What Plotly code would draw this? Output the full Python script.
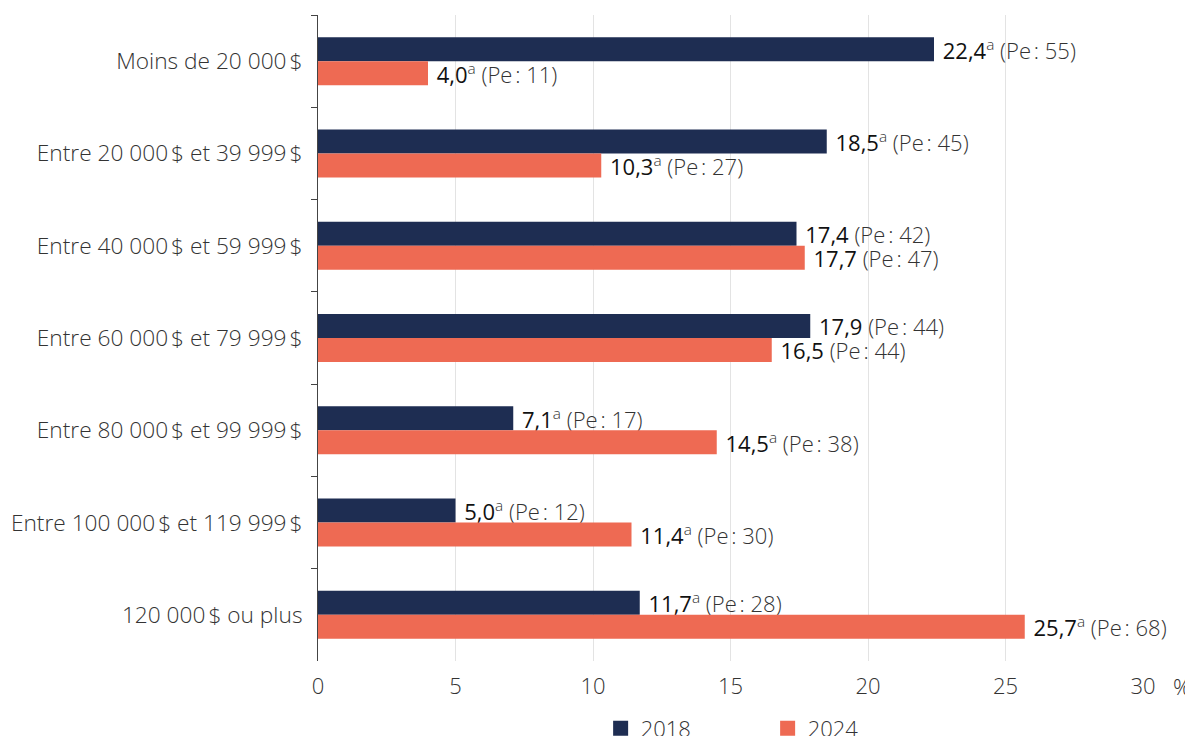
import plotly.graph_objects as go

categories = [
    "Moins de 20\u00a0000\u202f$",
    "Entre 20\u00a0000\u202f$ et 39\u00a0999\u202f$",
    "Entre 40\u00a0000\u202f$ et 59\u00a0999\u202f$",
    "Entre 60\u00a0000\u202f$ et 79\u00a0999\u202f$",
    "Entre 80\u00a0000\u202f$ et 99\u00a0999\u202f$",
    "Entre 100\u00a0000\u202f$ et 119\u00a0999\u202f$",
    "120\u00a0000\u202f$ ou plus",
]
values_2018 = [22.4, 18.5, 17.4, 17.9, 7.1, 5.0, 11.7]
flags_2018 = ["a", "a", "", "", "a", "a", "a"]
pe_2018 = [55, 45, 42, 44, 17, 12, 28]
values_2024 = [4.0, 10.3, 17.7, 16.5, 14.5, 11.4, 25.7]
flags_2024 = ["a", "a", "", "", "a", "a", "a"]
pe_2024 = [11, 27, 47, 44, 38, 30, 68]
x_ticks = [0, 5, 10, 15, 20, 25, 30]

NAVY = "#1e2d52"
CORAL = "#ee6a53"
FONT = "Open Sans"
FS = 22


def make_labels(vals, flags, pes):
    out = []
    for v, f, p in zip(vals, flags, pes):
        num = f"{v:.1f}".replace(".", ",")
        sup = f"<sup>{f}</sup>" if f else ""
        out.append(
            f" <span style='font-weight:400;color:#111'>{num}</span>{sup}"
            f" (Pe\u202f: {p})"
        )
    return out


fig = go.Figure()
for name, vals, flags, pes, col in [
    ("2018", values_2018, flags_2018, pe_2018, NAVY),
    ("2024", values_2024, flags_2024, pe_2024, CORAL),
]:
    fig.add_trace(go.Bar(
        y=categories, x=vals, name=name, orientation="h",
        marker=dict(color=col, line=dict(width=0)),
        text=make_labels(vals, flags, pes),
        textposition="outside", constraintext="none", cliponaxis=False,
        textfont=dict(family=FONT, size=FS, color="#333", weight=300),
        hoverinfo="x+y", showlegend=False,
    ))
    # legend-only entry with a larger square swatch
    fig.add_trace(go.Scatter(
        x=[None], y=[None], mode="markers", name=name,
        marker=dict(symbol="square", size=15, color=col), showlegend=True,
    ))

fig.update_layout(
    barmode="group", bargap=0.48, bargroupgap=0,
    width=1193, height=736,
    margin=dict(l=310, r=58, t=7, b=83, autoexpand=False),
    paper_bgcolor="white", plot_bgcolor="white",
    font=dict(family=FONT, size=FS, color="#333", weight=300),
    legend=dict(orientation="h", x=0.545, xanchor="center", y=-0.072, yanchor="top",
                font=dict(size=FS, color="#333", weight=300),
                traceorder="normal", entrywidth=122),
    xaxis=dict(range=[0, 30], tickvals=x_ticks, showgrid=True, gridcolor="#e3e3e3",
               gridwidth=1, zeroline=False, showline=False, ticks="",
               tickfont=dict(size=FS, color="#333", weight=300), ticklabelstandoff=10,
               automargin=False),
    yaxis=dict(autorange="reversed", showline=True, linecolor="#444", linewidth=1,
               ticks="outside", ticklen=6, tickcolor="#444", tickson="boundaries",
               tickfont=dict(size=22.7, color="#333", weight=300), ticklabelstandoff=10,
               showgrid=False, automargin=False),
    annotations=[dict(x=1.0, xref="paper", xshift=39, xanchor="center",
                      y=0, yref="paper", yshift=-25,
                      text="%", showarrow=False, yanchor="middle",
                      font=dict(family=FONT, size=FS, color="#333", weight=300))],
)

fig.write_html("out.html")
